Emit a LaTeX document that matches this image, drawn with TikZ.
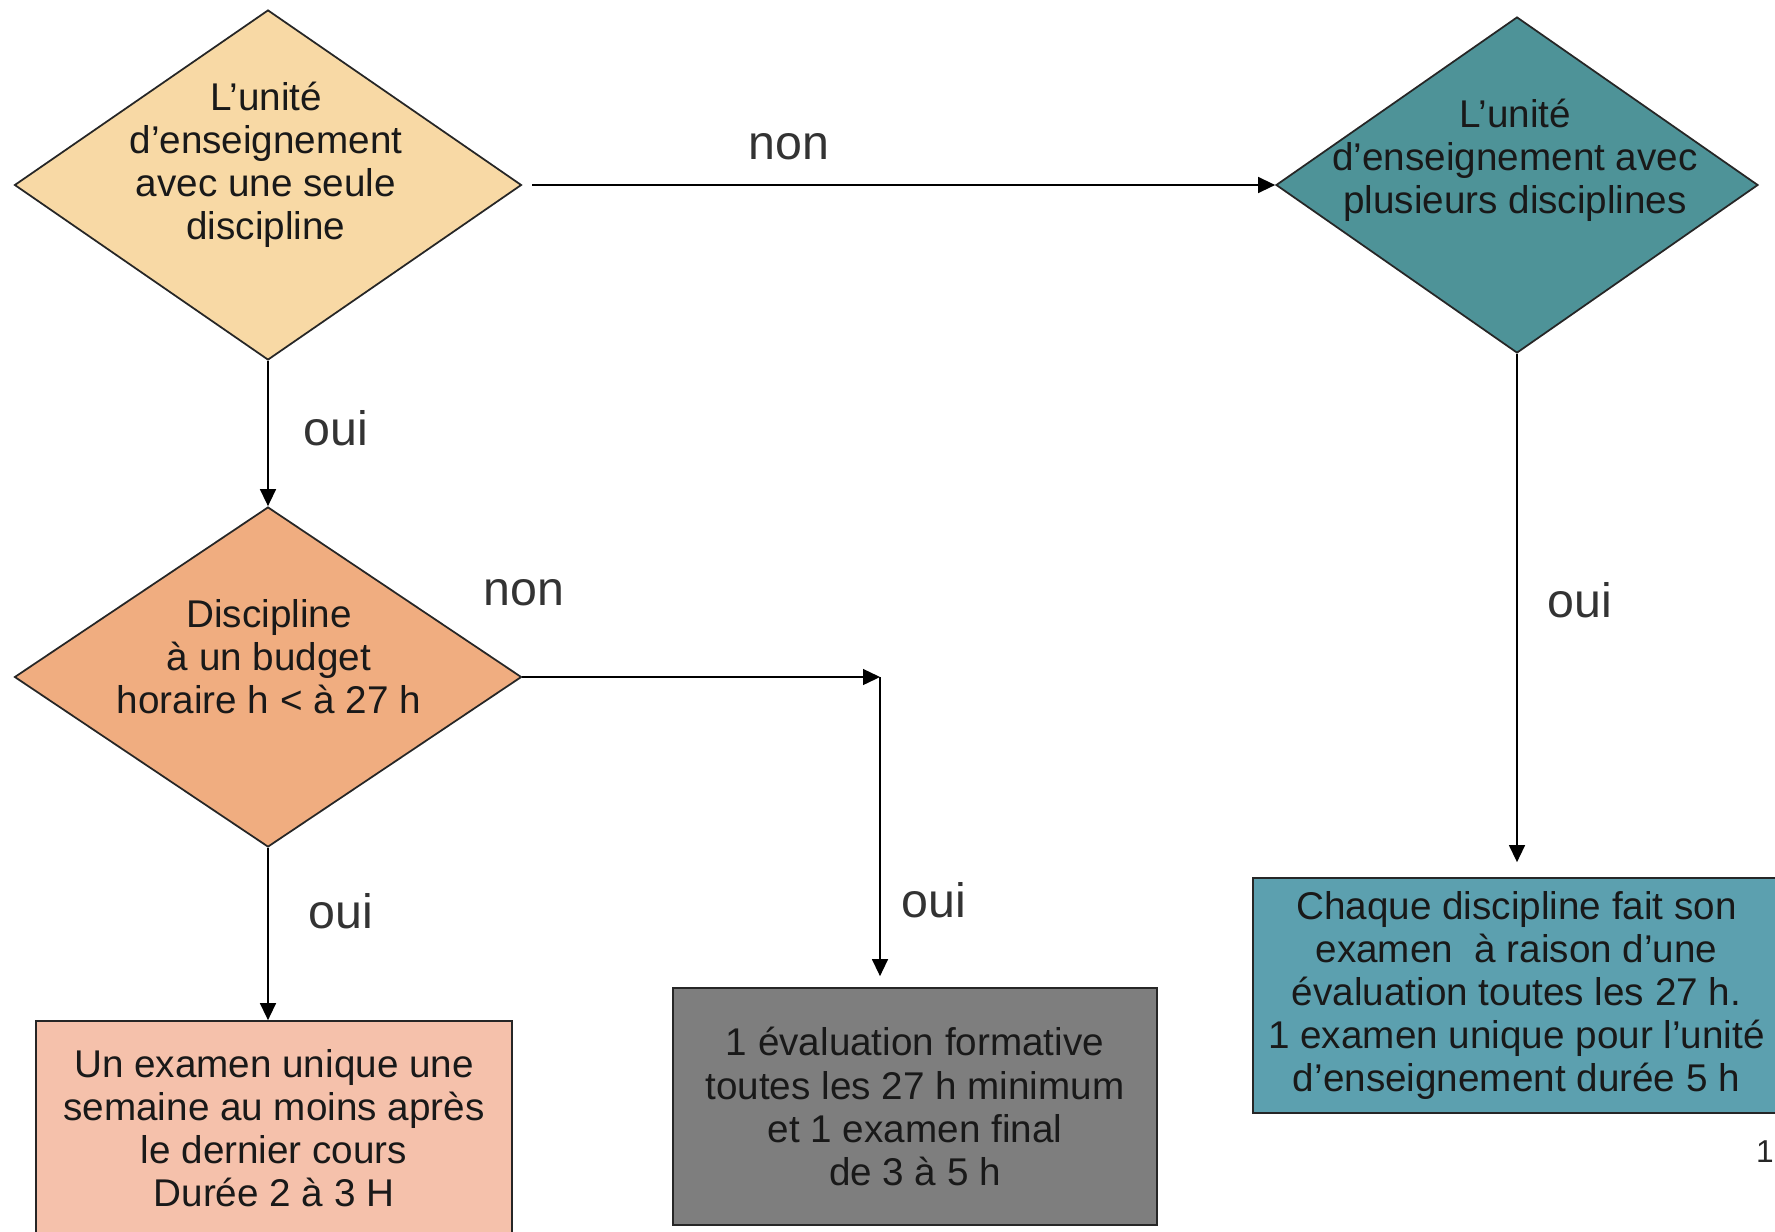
\documentclass[tikz,border=0pt]{standalone}
\usepackage{fontspec}
\setmainfont{Liberation Sans}
\usetikzlibrary{shapes.geometric,arrows.meta}
\definecolor{sable}{RGB}{248,217,165}
\definecolor{saumon}{RGB}{240,173,128}
\definecolor{sarcelle}{RGB}{78,147,152}
\definecolor{rosepale}{RGB}{245,193,171}
\definecolor{grisbox}{RGB}{126,126,126}
\definecolor{bleuvert}{RGB}{92,160,175}

\begin{document}
\begin{tikzpicture}[x=0.2mm,y=-0.2mm,
  decision/.style={diamond,draw=black!85,line width=1pt,inner sep=0pt},
  dtext/.style={align=center,font=\fontsize{22}{24.5}\selectfont,text=black!90},
  resultbox/.style={rectangle,draw=black!85,line width=1pt,inner sep=0pt,align=center,
    font=\fontsize{22}{24.5}\selectfont,text=black!90},
  lbl/.style={font=\fontsize{27.5}{30}\selectfont,text=black!80},
  arr/.style={-{Triangle[length=3.4mm,width=3.2mm]},line width=0.8pt}]

\useasboundingbox (0,0) rectangle (1775,1231);

\node[decision,fill=sable,minimum width=101.4mm,minimum height=70mm] (d1) at (268,185) {};
\node[dtext] (d1txt) at (266,165) {L’unité\\d’enseignement\\avec une seule\\discipline};

\node[decision,fill=sarcelle,minimum width=96.4mm,minimum height=67.2mm] (d2) at (1517,185) {};
\node[dtext] (d2txt) at (1515,160) {L’unité\\d’enseignement avec\\plusieurs disciplines};

\node[decision,fill=saumon,minimum width=101.4mm,minimum height=68mm] (d3) at (268,677) {};
\node[dtext] (d3txt) at (269,657) {Discipline\\à un budget\\horaire h < à 27 h};

\node[resultbox,fill=rosepale,minimum width=95.2mm,minimum height=43mm] (box1) at (274,1128.5)
  {Un examen unique une\\semaine au moins après\\le dernier cours\\Durée 2 à 3 H};
\node[resultbox,fill=grisbox,minimum width=96.8mm,minimum height=47.4mm] (box2) at (915,1106.5)
  {1 évaluation formative\\toutes les 27 h minimum\\et 1 examen final\\de 3 à 5 h};
\node[resultbox,fill=bleuvert,minimum width=105.4mm,minimum height=47mm] (box3) at (1516.5,995.5)
  {Chaque discipline fait son\\examen\ \ à raison d’une\\évaluation toutes les 27 h.\\1 examen unique pour l’unité\\d’enseignement durée 5 h};

\coordinate (c1) at (880,677);

\draw[arr] ([xshift=2mm]d1.east) -- (d2.west);
\draw[arr] (d1.south) -- (d3.north);
\draw[arr] (d3.south) -- (box1.north -| d3.south);
\draw[arr] (d3.east) -- (c1);
\draw[arr] (c1) -- ([yshift=2.2mm]box2.north -| c1);
\draw[arr] (d2.south) -- ([yshift=3mm]box3.north -| d2.south);

\node[lbl] (non1) at (789,147) {non};
\node[lbl] (oui1) at (336,428) {oui};
\node[lbl] (non2) at (524,593) {non};
\node[lbl] (oui2) at (341,911) {oui};
\node[lbl] (oui3) at (934,900) {oui};
\node[lbl] (oui4) at (1580,600) {oui};
\node[font=\fontsize{18}{20}\selectfont,text=black!85] (page) at (1765,1152) {1};
\end{tikzpicture}
\end{document}
